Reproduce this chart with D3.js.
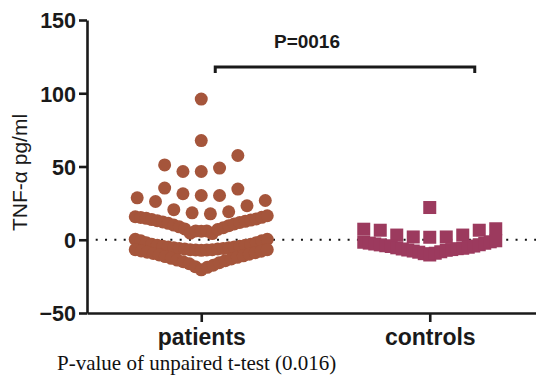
<!DOCTYPE html>
<html>
<head>
<meta charset="utf-8">
<script src="https://cdn.jsdelivr.net/npm/d3@7"></script>
<style>
  body { margin: 0; background: #fff; }
  svg { display: block; }
</style>
</head>
<body>
<div id="chart"></div>
<script>
// groups on the x axis
const categories = ['patients', 'controls'];
const yTicks = [-50, 0, 50, 100, 150];

// column scatter, one array per row of points (left to right)
const patientRows = [
  [96.0],
  [67.7],
  [51.1, 46.6, 46.6, 48.9, 57.5],
  [35.3, 31.4, 30.2, 30.2, 34.6],
  [28.6, 26.1, 20.5, 18.4, 17.7, 19.1, 23.2, 26.8],
  [15.7, 15.2, 14.6, 13.8, 13.0, 12.2, 11.2, 10.0, 8.8, 7.4, 4.5, 6.0, 5.8,
   6.0, 4.2, 7.0, 8.2, 9.6, 10.8, 11.8, 12.6, 13.4, 14.2, 15.3, 16.4],
  [0.3, -0.7, -2.0, -3.1, -3.8, -4.4, -5.0, -5.5, -5.9, -6.3, -6.8, -7.0, -7.2,
   -7.0, -6.8, -6.3, -5.9, -5.5, -5.0, -4.4, -3.8, -3.1, -2.0, -0.7, 0.3],
  [-6.8, -7.6, -8.5, -9.4, -10.4, -11.5, -12.7, -13.9, -15.0, -16.4, -18.4, -20.5,
   -18.8, -17.4, -15.7, -14.3, -13.1, -12.0, -11.0, -9.9, -8.8, -7.8, -6.8]
];

const controlRows = [
  [22.0],
  [7.2, 6.5, 3.2, 1.9, 1.7, 1.9, 3.2, 6.5, 7.5],
  [-1.7, -2.3, -2.9, -3.5, -4.1, -4.6, -5.5, -6.3, -7.0, -7.7, -8.5, -9.5, -10.4,
   -9.2, -8.2, -7.2, -6.7, -6.1, -5.8, -5.1, -4.3, -3.4, -2.4, -1.4, -0.7]
];

const pLabel = 'P=0016';
const yLabel = 'TNF-\u03b1 pg/ml';
const caption = 'P-value of unpaired t-test (0.016)';

const width = 536, height = 378;
const axisLeft = 87, axisBottom = 313, axisTop = 20;

const svg = d3.select('#chart')
  .append('svg')
  .attr('width', width)
  .attr('height', height);

const x = d3.scalePoint()
  .domain(categories)
  .range([axisLeft, 544])
  .padding(0.5);

const y = d3.scaleLinear()
  .domain([-50, 150])
  .range([axisBottom, axisTop]);

// spread each row around the group centre
function layout(rows, cat, step, maxW) {
  const pts = [];
  rows.forEach(row => {
    const n = row.length;
    const s = n > 1 ? Math.min(step, maxW / (n - 1)) : 0;
    row.forEach((v, i) => {
      pts.push({ x: x(cat) + (i - (n - 1) / 2) * s, y: y(v) });
    });
  });
  return pts;
}

// dotted zero line
svg.append('line')
  .attr('x1', 95.7)
  .attr('x2', width)
  .attr('y1', y(0))
  .attr('y2', y(0))
  .attr('stroke', '#111')
  .attr('stroke-width', 2)
  .attr('stroke-dasharray', '2 7.33');

// patients
svg.append('g')
  .selectAll('circle')
  .data(layout(patientRows, 'patients', 18.3, 132))
  .enter()
  .append('circle')
  .attr('cx', d => d.x)
  .attr('cy', d => d.y)
  .attr('r', 6.5)
  .attr('fill', '#a5553b');

// controls
svg.append('g')
  .selectAll('rect')
  .data(layout(controlRows, 'controls', 16.7, 132))
  .enter()
  .append('rect')
  .attr('x', d => d.x - 6.5)
  .attr('y', d => d.y - 6.5)
  .attr('width', 13)
  .attr('height', 13)
  .attr('fill', '#9c3a5e');

// Y axis
const yAxis = svg.append('g')
  .attr('transform', `translate(${axisLeft},0)`)
  .call(d3.axisLeft(y).tickValues(yTicks).tickSize(8).tickSizeOuter(0));

// X axis
const xAxis = svg.append('g')
  .attr('transform', `translate(0,${axisBottom})`)
  .call(d3.axisBottom(x).tickSize(9).tickSizeOuter(0));

[yAxis, xAxis].forEach(g => {
  g.select('.domain').attr('stroke', '#1a1a1a').attr('stroke-width', 2.6);
  g.selectAll('.tick line').attr('stroke', '#1a1a1a').attr('stroke-width', 2.6);
  g.selectAll('.tick text')
    .attr('fill', '#1a1a1a')
    .style('font-family', '"Liberation Sans", Arial, sans-serif')
    .style('font-weight', 'bold');
});

yAxis.selectAll('.tick text')
  .style('font-size', '21.5px')
  .attr('x', -11)
  .attr('dy', '0.36em');

xAxis.selectAll('.tick text')
  .style('font-size', '23px')
  .attr('y', 16)
  .attr('dy', '0.71em');

// y title
svg.append('text')
  .attr('transform', `translate(27,${(axisTop + axisBottom) / 2 + 6}) rotate(-90)`)
  .attr('text-anchor', 'middle')
  .style('font-family', '"Liberation Sans", Arial, sans-serif')
  .style('font-size', '21px')
  .attr('fill', '#1a1a1a')
  .text(yLabel);

// significance bracket
const bx1 = x('patients') + 14, bx2 = x('controls') + 45, by = 67;
svg.append('path')
  .attr('d', `M${bx1},${by + 6}V${by}H${bx2}V${by + 6}`)
  .attr('fill', 'none')
  .attr('stroke', '#1a1a1a')
  .attr('stroke-width', 3);

svg.append('text')
  .attr('x', (bx1 + bx2) / 2 - 38)
  .attr('y', 48)
  .attr('text-anchor', 'middle')
  .style('font-family', '"Liberation Sans", Arial, sans-serif')
  .style('font-size', '19px')
  .style('font-weight', 'bold')
  .attr('fill', '#1a1a1a')
  .text(pLabel);

// caption
svg.append('text')
  .attr('x', 57)
  .attr('y', 370)
  .style('font-family', '"Liberation Serif", "Times New Roman", serif')
  .style('font-size', '21px')
  .attr('fill', '#111')
  .text(caption);
</script>
</body>
</html>
